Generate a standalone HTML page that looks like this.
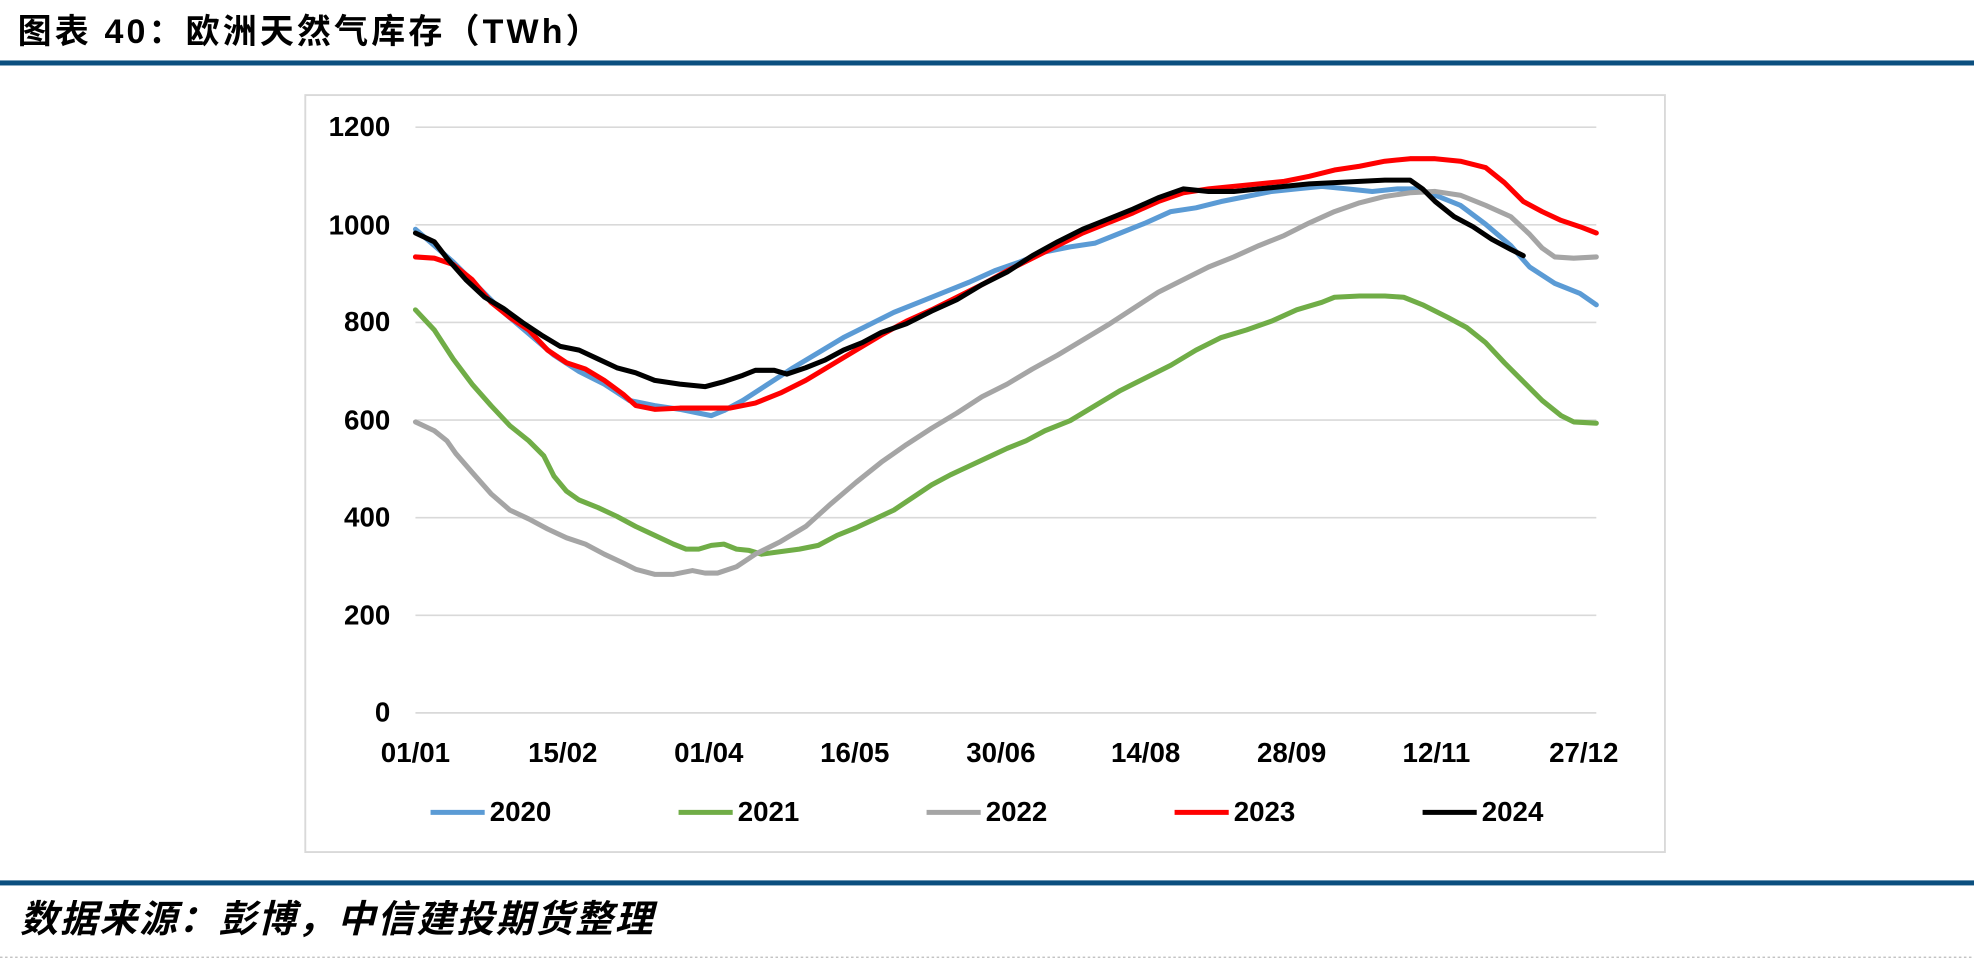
<!DOCTYPE html>
<html><head><meta charset="utf-8">
<style>
html,body{margin:0;padding:0;background:#fff;}
svg{display:block;}
text{font-family:"Liberation Sans","Noto Sans CJK SC",sans-serif;}
</style></head>
<body>
<svg width="1974" height="961" viewBox="0 0 1568 763" preserveAspectRatio="none" xmlns="http://www.w3.org/2000/svg">
<text x="14" y="34" font-size="27" font-weight="bold" fill="#000" letter-spacing="2.5">图表 40：欧洲天然气库存（TWh）</text>
<rect x="0" y="48" width="1568" height="4" fill="#0b4f7f"/>
<rect x="242.5" y="75.5" width="1080" height="601" fill="#fff" stroke="#d9d9d9" stroke-width="1.5"/>
<g stroke="#d9d9d9" stroke-width="1.3">
<line x1="330" x2="1268" y1="101" y2="101"/><line x1="330" x2="1268" y1="178.5" y2="178.5"/>
<line x1="330" x2="1268" y1="256" y2="256"/><line x1="330" x2="1268" y1="333.5" y2="333.5"/>
<line x1="330" x2="1268" y1="411" y2="411"/><line x1="330" x2="1268" y1="488.5" y2="488.5"/>
<line x1="330" x2="1268" y1="566" y2="566"/>
</g>
<g font-size="22" font-weight="bold" fill="#000" text-anchor="end">
<text x="310" y="108">1200</text><text x="310" y="186">1000</text><text x="310" y="263">800</text>
<text x="310" y="341">600</text><text x="310" y="418">400</text><text x="310" y="496">200</text><text x="310" y="573">0</text>
</g>
<g font-size="22" font-weight="bold" fill="#000" text-anchor="middle">
<text x="330" y="605">01/01</text><text x="447" y="605">15/02</text><text x="563" y="605">01/04</text>
<text x="679" y="605">16/05</text><text x="795" y="605">30/06</text><text x="910" y="605">14/08</text>
<text x="1026" y="605">28/09</text><text x="1141" y="605">12/11</text><text x="1258" y="605">27/12</text>
</g>
<g fill="none" stroke-width="4" stroke-linejoin="round" stroke-linecap="round">
<polyline stroke="#5b9bd5" points="330,182 345,195 360,208 380,228 400,248 420,265 440,282 460,295 480,305 500,318 520,322 540,325 555,328 565,330 575,326 590,318 610,305 630,292 650,280 670,268 690,258 710,248 730,240 750,232 770,224 790,215 810,208 830,200 850,196 870,193 890,185 910,177 930,168 950,165 970,160 990,156 1010,152 1030,150 1050,148 1070,150 1090,152 1110,150 1125,150 1140,155 1160,163 1180,178 1200,195 1215,212 1235,225 1255,233 1268,242"/>
<polyline stroke="#70ad47" points="330,246 345,262 360,285 375,305 390,322 405,338 420,350 432,362 440,378 450,390 460,397 475,403 490,410 505,418 520,425 535,432 545,436 555,436 565,433 575,432 585,436 595,437 605,440 620,438 635,436 650,433 665,425 680,419 695,412 710,405 725,395 740,385 755,377 770,370 785,363 800,356 815,350 830,342 850,334 870,322 890,310 910,300 930,290 950,278 970,268 990,262 1010,255 1030,246 1050,240 1060,236 1080,235 1100,235 1115,236 1130,242 1150,252 1165,260 1180,272 1195,288 1210,303 1225,318 1240,330 1250,335 1268,336"/>
<polyline stroke="#a5a5a5" points="330,335 345,342 355,350 362,360 375,375 390,392 405,405 420,412 435,420 450,427 465,432 480,440 495,447 505,452 520,456 535,456 550,453 560,455 570,455 585,450 600,440 620,430 640,418 660,400 680,383 700,367 720,353 740,340 760,328 780,315 800,305 820,293 840,282 860,270 880,258 900,245 920,232 940,222 960,212 980,204 1000,195 1020,187 1040,177 1060,168 1080,161 1100,156 1120,153 1140,152 1160,155 1180,163 1200,172 1215,186 1225,197 1235,204 1250,205 1268,204"/>
<polyline stroke="#ff0000" points="330,204 345,205 360,210 375,222 390,240 405,252 420,262 435,278 450,288 465,293 480,302 495,313 505,322 520,325 540,324 560,324 580,324 600,320 620,312 640,302 660,290 680,278 700,266 720,255 740,246 760,236 780,226 800,215 820,205 840,195 860,185 880,177 900,169 920,160 940,153 960,150 980,148 1000,146 1020,144 1040,140 1060,135 1080,132 1100,128 1120,126 1140,126 1160,128 1180,133 1195,145 1210,160 1225,168 1240,175 1255,180 1268,185"/>
<polyline stroke="#000" points="330,185 345,192 355,205 370,222 385,236 400,245 415,256 430,266 445,275 460,278 475,285 490,292 505,296 520,302 540,305 560,307 575,303 590,298 600,294 615,294 625,297 640,292 655,286 670,278 685,272 700,264 720,257 740,247 760,238 780,226 800,216 820,203 840,192 860,182 880,174 900,166 920,157 940,150 960,152 980,152 1000,150 1020,148 1040,146 1060,145 1080,144 1100,143 1120,143 1130,150 1140,160 1155,172 1170,180 1185,190 1200,198 1210,203"/>
</g>
<g stroke-width="4">
<line x1="342" x2="385" y1="645" y2="645" stroke="#5b9bd5"/>
<line x1="539" x2="582" y1="645" y2="645" stroke="#70ad47"/>
<line x1="736" x2="779" y1="645" y2="645" stroke="#a5a5a5"/>
<line x1="933" x2="976" y1="645" y2="645" stroke="#ff0000"/>
<line x1="1130" x2="1173" y1="645" y2="645" stroke="#000"/>
</g>
<g font-size="22" font-weight="bold" fill="#000">
<text x="389" y="652">2020</text><text x="586" y="652">2021</text><text x="783" y="652">2022</text>
<text x="980" y="652">2023</text><text x="1177" y="652">2024</text>
</g>
<rect x="0" y="699" width="1568" height="4" fill="#0b4f7f"/>
<text x="16" y="740" font-size="30" font-weight="bold" font-style="italic" fill="#000" letter-spacing="1.5">数据来源：彭博，中信建投期货整理</text>
<line x1="0" x2="1568" y1="760" y2="760" stroke="#bbb" stroke-dasharray="2,2" stroke-width="1"/>
</svg>
</body></html>
